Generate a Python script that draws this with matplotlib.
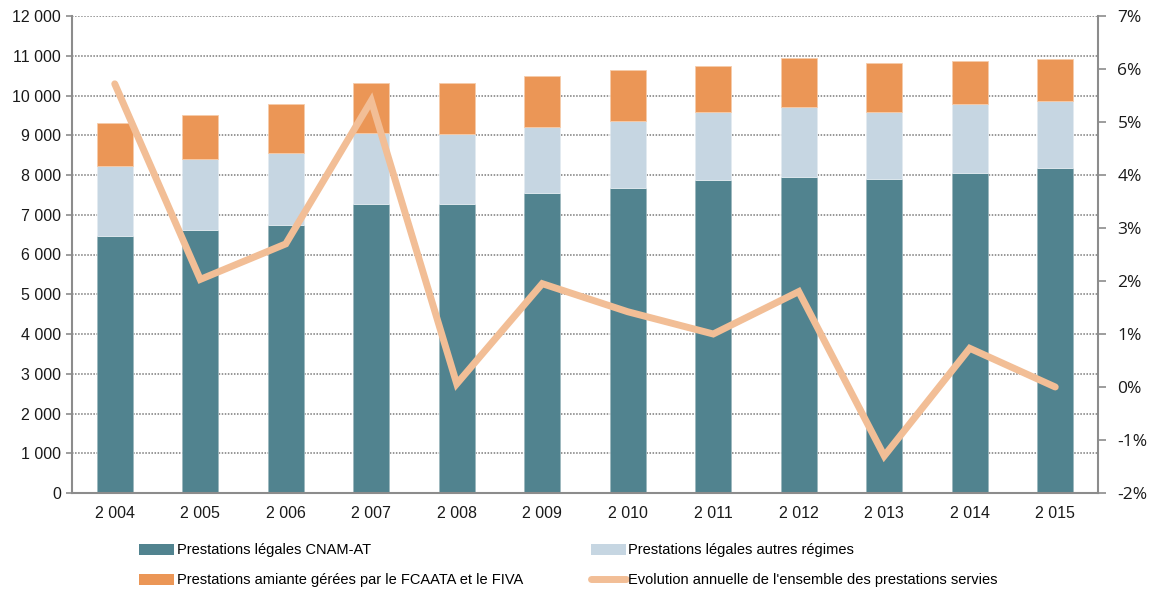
import matplotlib
matplotlib.use("Agg")
import matplotlib.pyplot as plt
from matplotlib.ticker import FixedLocator
from matplotlib.lines import Line2D
from matplotlib.patches import Patch

years = ["2 004", "2 005", "2 006", "2 007", "2 008", "2 009", "2 010", "2 011", "2 012", "2 013", "2 014", "2 015"]
cnam = [6465, 6616, 6742, 7270, 7270, 7547, 7673, 7874, 7950, 7908, 8058, 8176]
autres_total = [8226, 8403, 8553, 9057, 9031, 9207, 9358, 9585, 9702, 9585, 9778, 9862]
amiante_total = [9308, 9509, 9786, 10314, 10314, 10490, 10642, 10742, 10951, 10810, 10876, 10910]
evolution = [5.72, 2.03, 2.70, 5.40, 0.06, 1.95, 1.42, 1.00, 1.80, -1.30, 0.73, 0.00]

autres = [a - c for a, c in zip(autres_total, cnam)]
amiante = [m - a for m, a in zip(amiante_total, autres_total)]

labels = ["Prestations légales CNAM-AT", "Prestations légales autres régimes",
          "Prestations amiante gérées par le FCAATA et le FIVA",
          "Evolution annuelle de l'ensemble des prestations servies"]
left_ticks = list(range(0, 12001, 1000))
left_ticklabels = ["0" if v == 0 else f"{v//1000} {v%1000:03d}" for v in left_ticks]
right_ticks = list(range(-2, 8))
right_ticklabels = [f"{v}%" for v in right_ticks]

c_teal = "#51838F"
c_light = "#C6D6E2"
c_orange = "#EB9656"
c_line = "#F2BE96"
c_axis = "#8C8C8C"

plt.rcParams["font.family"] = ["Liberation Sans", "DejaVu Sans"]

fig = plt.figure(figsize=(11.57, 5.90), dpi=100)
ax = fig.add_axes([72/1157, 1-493/590, (1098-72)/1157, (493-16)/590])
x = list(range(len(years)))
w = 0.42
ax.bar(x, cnam, w, color=c_teal, edgecolor="#9DB8BE", linewidth=0.6, zorder=2)
ax.bar(x, autres, w, bottom=cnam, color=c_light, edgecolor="#E3EBF1", linewidth=0.6, zorder=2)
ax.bar(x, amiante, w, bottom=autres_total, color=c_orange, edgecolor="#F6CCAA", linewidth=0.6, zorder=2)

ax.set_xlim(-0.5, len(years) - 0.5)
ax.set_ylim(0, 12000)
ax.yaxis.set_major_locator(FixedLocator(left_ticks))
ax.set_yticklabels(left_ticklabels, fontsize=11.5, color="#1A1A1A")
ax.set_xticks(x)
ax.set_xticklabels(years, fontsize=11.5, color="#1A1A1A")
ax.tick_params(axis="x", length=0, pad=9)
ax.tick_params(axis="y", length=4, color=c_axis, width=1.2, pad=4)
ax.grid(axis="y", color="#7A7A7A", linestyle=(0, (1.0, 1.0)), linewidth=1.1, zorder=0)
ax.set_axisbelow(True)
for s in ["top", "right"]:
    ax.spines[s].set_visible(False)
ax.spines["left"].set_color(c_axis)
ax.spines["left"].set_linewidth(1.5)
ax.spines["bottom"].set_color(c_axis)
ax.spines["bottom"].set_linewidth(1.5)

ax2 = ax.twinx()
ax2.plot(x, evolution, color=c_line, linewidth=5, solid_capstyle="round", solid_joinstyle="miter", zorder=3)
ax2.set_ylim(-2, 7)
ax2.set_yticks(right_ticks)
ax2.set_yticklabels(right_ticklabels, fontsize=12.5, color="#1A1A1A", family=["Open Sans", "DejaVu Sans"])
ax2.tick_params(axis="y", length=6, color=c_axis, width=1.2, pad=8)
for s in ["top", "left", "bottom"]:
    ax2.spines[s].set_visible(False)
ax2.spines["right"].set_color(c_axis)
ax2.spines["right"].set_linewidth(1.5)

h_cnam = Patch(facecolor=c_teal)
h_autres = Patch(facecolor=c_light)
h_amiante = Patch(facecolor=c_orange)
h_line = Line2D([0], [0], color=c_line, linewidth=5, solid_capstyle="round")
# column-major fill: col1 = CNAM, amiante ; col2 = autres, evolution
handles = [h_cnam, h_amiante, h_autres, h_line]
leg_labels = [labels[0], labels[2], labels[1], labels[3]]
fig.legend(handles, leg_labels, loc="upper left", bbox_to_anchor=(132/1157, 1-536/590),
           ncol=2, frameon=False, handlelength=2.4, handleheight=0.8,
           handletextpad=0.2, columnspacing=4.6, labelspacing=1.1, borderpad=0,
           prop={"family": ["Liberation Sans", "DejaVu Sans"], "size": 10.5})
fig.savefig("out.png", dpi=100)
